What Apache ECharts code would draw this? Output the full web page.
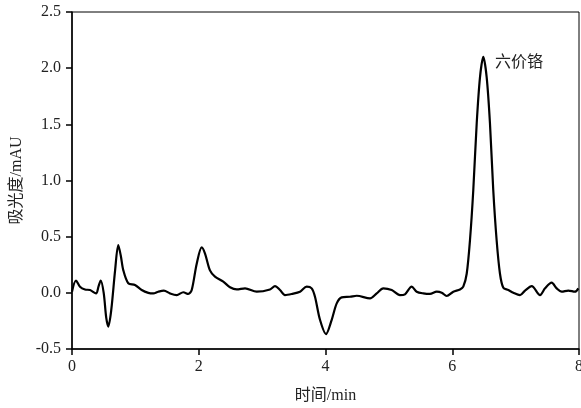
<!DOCTYPE html>
<html>
<head>
<meta charset="utf-8">
<script src="https://cdn.jsdelivr.net/npm/echarts@6/dist/echarts.min.js"></script>
<style>html,body{margin:0;padding:0;background:#fff}#c{width:581px;height:408px}</style>
</head>
<body>
<div id="c"></div>
<script>
var times = [0, 0.063, 0.126, 0.205, 0.284, 0.379, 0.42, 0.453, 0.50, 0.54, 0.573, 0.62, 0.68, 0.73, 0.77, 0.81, 0.888, 0.994, 1.10, 1.204, 1.283, 1.36, 1.45, 1.546, 1.652, 1.756, 1.835, 1.889, 1.968, 2.047, 2.099, 2.177, 2.256, 2.387, 2.493, 2.599, 2.73, 2.914, 3.124, 3.203, 3.282, 3.361, 3.467, 3.598, 3.703, 3.782, 3.834, 3.913, 4.008, 4.098, 4.177, 4.256, 4.386, 4.492, 4.702, 4.808, 4.912, 5.045, 5.175, 5.254, 5.36, 5.439, 5.543, 5.649, 5.755, 5.834, 5.912, 6.017, 6.122, 6.174, 6.228, 6.28, 6.332, 6.386, 6.438, 6.49, 6.543, 6.595, 6.647, 6.70, 6.753, 6.806, 6.885, 6.964, 7.069, 7.148, 7.254, 7.385, 7.464, 7.569, 7.648, 7.727, 7.831, 7.937, 7.99];
var absorbance = [0.01, 0.11, 0.055, 0.03, 0.025, -0.005, 0.06, 0.11, 0.0, -0.22, -0.30, -0.15, 0.20, 0.425, 0.33, 0.20, 0.085, 0.07, 0.025, 0.0, -0.005, 0.01, 0.02, -0.005, -0.02, 0.005, -0.01, 0.025, 0.26, 0.405, 0.35, 0.20, 0.145, 0.10, 0.05, 0.03, 0.04, 0.01, 0.03, 0.06, 0.025, -0.02, -0.01, 0.01, 0.055, 0.04, -0.035, -0.24, -0.367, -0.24, -0.094, -0.04, -0.035, -0.026, -0.05, -0.005, 0.04, 0.025, -0.02, -0.013, 0.055, 0.01, -0.005, -0.01, 0.01, 0.001, -0.028, 0.01, 0.03, 0.055, 0.17, 0.47, 0.915, 1.51, 1.92, 2.10, 1.92, 1.51, 0.915, 0.47, 0.17, 0.045, 0.025, 0.001, -0.02, 0.02, 0.06, -0.02, 0.04, 0.09, 0.04, 0.01, 0.02, 0.01, 0.04];
var peakLabel = '六价铬';
var peakLabelPos = [6.675, 2.046];
var xTitle = '时间/min';
var yTitle = '吸光度/mAU';

var FONT = "'Liberation Serif', 'Noto Sans CJK SC', serif";
var data = times.map(function (t, i) { return [t, absorbance[i]]; });
var chart = echarts.init(document.getElementById('c'), null, {renderer: 'canvas'});
chart.setOption({
  animation: false,
  backgroundColor: '#fff',
  grid: {left: 72, right: 2, top: 12, bottom: 59, containLabel: false, outerBoundsMode: 'none', show: true, borderColor: '#000', borderWidth: 1, backgroundColor: 'transparent'},
  xAxis: {
    type: 'value', min: 0, max: 8, interval: 2,
    name: xTitle, nameLocation: 'middle', nameGap: 39,
    nameTextStyle: {fontFamily: FONT, fontSize: 16, color: '#222'},
    axisLine: {show: true, onZero: false, lineStyle: {color: '#000', width: 1.5}},
    axisTick: {show: true, inside: false, length: 6, lineStyle: {color: '#000', width: 1.5}},
    axisLabel: {fontFamily: FONT, fontSize: 16, color: '#222', margin: 10, hideOverlap: false},
    splitLine: {show: false}
  },
  yAxis: {
    type: 'value', min: -0.5, max: 2.5, interval: 0.5,
    name: yTitle, nameLocation: 'middle', nameGap: 47, nameRotate: 90,
    nameTextStyle: {fontFamily: FONT, fontSize: 16, color: '#222'},
    axisLine: {show: true, onZero: false, lineStyle: {color: '#000', width: 1.5}},
    axisTick: {show: true, inside: false, length: 6, lineStyle: {color: '#000', width: 1.5}},
    axisLabel: {fontFamily: FONT, fontSize: 16, color: '#222', margin: 11, formatter: function (v) { return v.toFixed(1); }},
    splitLine: {show: false}
  },
  series: [{
    type: 'line', data: data, smooth: 0.3, showSymbol: false, symbol: 'none',
    lineStyle: {color: '#000', width: 2.2},
    markPoint: {
      symbol: 'circle', symbolSize: 0,
      data: [{coord: peakLabelPos}],
      label: {show: true, position: 'right', distance: 0, formatter: peakLabel, fontFamily: FONT, fontSize: 16, color: '#222'}
    }
  }]
});
</script>
</body>
</html>
